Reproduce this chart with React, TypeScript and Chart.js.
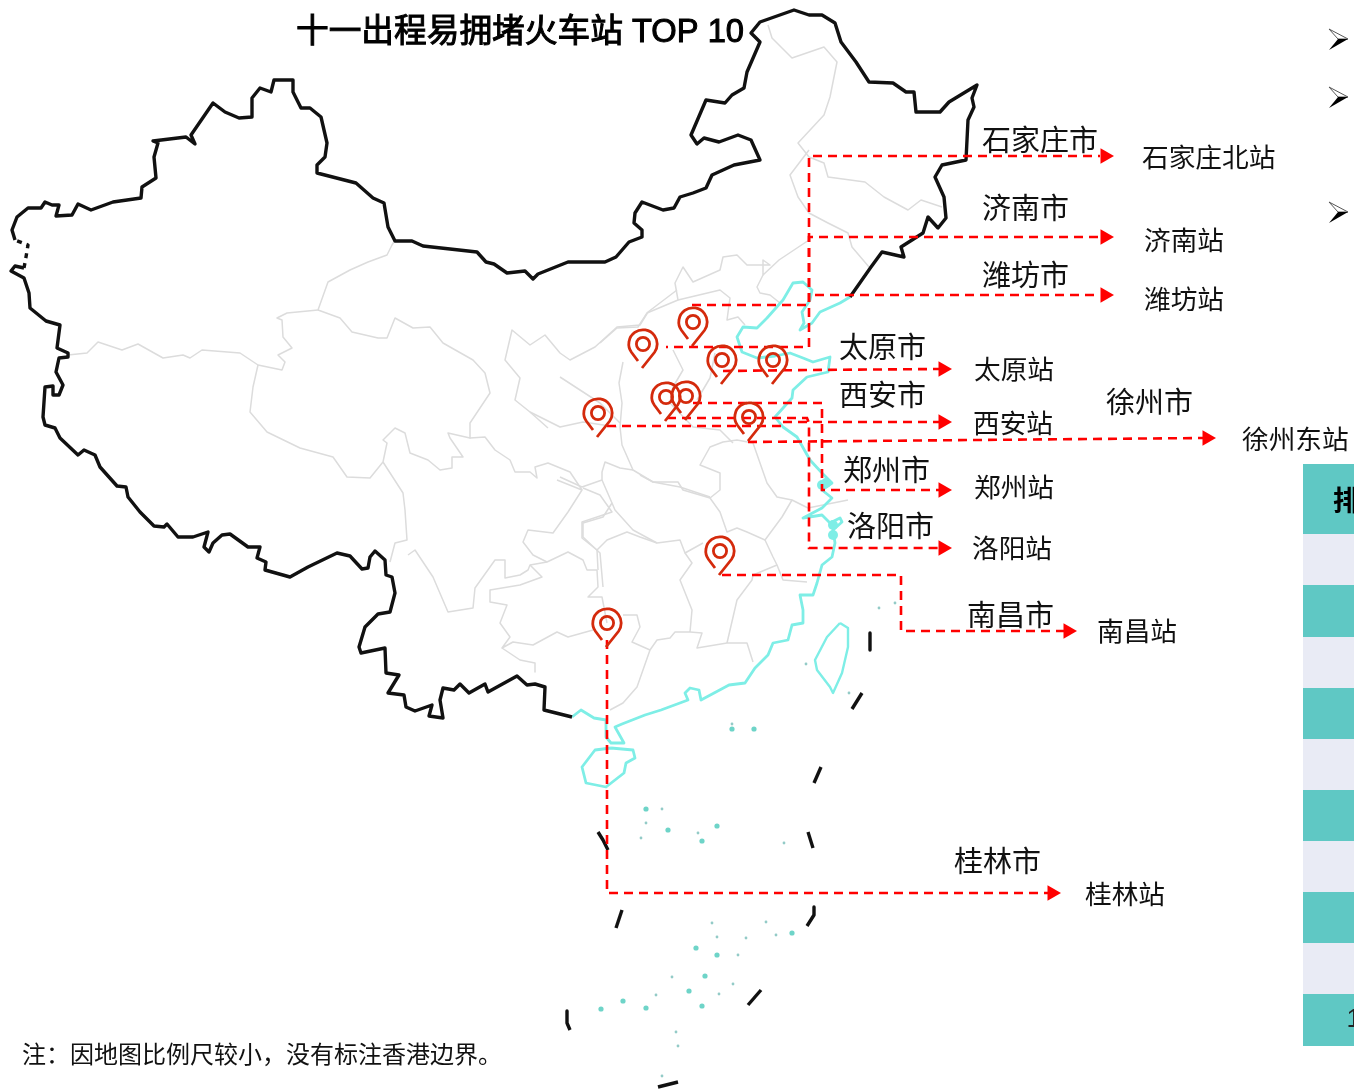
import React, { useEffect, useRef } from "react";
import { Chart, registerables } from "chart.js";

Chart.register(...registerables);

type P = number[];

const titleText = "十一出程易拥堵火车站 TOP 10";
const noteText = "注：因地图比例尺较小，没有标注香港边界。";
const cityNames = ["石家庄市", "济南市", "潍坊市", "太原市", "西安市", "徐州市", "郑州市", "洛阳市", "南昌市", "桂林市"];
const cityAnchors: P[] = [[982, 140], [982, 208], [982, 275], [839, 347], [839, 395], [1106, 402], [843, 470], [847, 526], [967, 615], [954, 861]];
const stationNames = ["石家庄北站", "济南站", "潍坊站", "太原站", "西安站", "徐州东站", "郑州站", "洛阳站", "南昌站", "桂林站"];
const stationAnchors: P[] = [[1142, 157], [1144, 240], [1144, 299], [974, 369], [973, 423], [1242, 439], [974, 487], [972, 548], [1097, 631], [1085, 894]];
const bulletSpots: P[] = [[1338, 39], [1338, 97], [1338, 212]];
const tableHeader = "排名";
const tableRanks = ["1", "2", "3", "4", "5", "6", "7", "8", "9", "10"];
const tableEdges = [464, 534, 585, 637, 688, 739, 790, 841, 892, 943, 994, 1046];

const pins: P[] = [[693, 322], [643, 344], [722, 360], [773, 360], [666, 397], [686, 396], [598, 413], [749, 417], [720, 551], [607, 623]];
const arrowHeads: P[] = [[1105, 156], [1105, 237], [1105, 295], [943, 369], [943, 422], [943, 490], [943, 548], [1207, 438], [1068, 631], [1052, 893]];

const routeShijiazhuang: P[] = [[692, 305], [809, 305], [809, 156], [1100, 156]];
const routeJinan: P[] = [[666, 347], [809, 347], [809, 237], [1100, 237]];
const routeWeifang: P[] = [[815, 295], [1100, 295]];
const routeTaiyuan: P[] = [[723, 371], [809, 370], [940, 369]];
const routeXian: P[] = [[607, 426], [782, 426], [782, 422], [940, 422]];
const routeXuzhou: P[] = [[748, 442], [1203, 438]];
const routeZhengzhou: P[] = [[693, 403], [822, 403], [822, 490], [940, 490]];
const routeLuoyang: P[] = [[667, 418], [807, 418], [809, 423], [809, 548], [940, 548]];
const routeNanchang: P[] = [[722, 575], [901, 575], [901, 631], [1064, 631]];
const routeGuilin: P[] = [[607, 640], [607, 893], [1048, 893]];

const borderMain: P[] = [
  [572, 717], [544, 710], [545, 687], [535, 684], [527, 685], [517, 676], [488, 692], [485, 684], [469, 693], [460, 684], [454, 690], [443, 688], [440, 700], [443, 718], [429, 716], [432, 705], [415, 711], [406, 707], [404, 695], [388, 693], [399, 675], [386, 673], [385, 648], [361, 653], [359, 647], [365, 627], [378, 614], [390, 612], [395, 593], [392, 577], [386, 575], [385, 560], [375, 551], [370, 557], [368, 568], [362, 569], [350, 556], [337, 553], [308, 567], [290, 577], [265, 570], [266, 562], [257, 558], [260, 547], [248, 547], [230, 534], [222, 535], [213, 543], [209, 552], [204, 547], [208, 532], [193, 537], [178, 537], [167, 524], [164, 527], [154, 526], [140, 512], [128, 497], [126, 487], [117, 486], [100, 467], [95, 455], [84, 450], [78, 455], [60, 438], [55, 428], [45, 425], [43, 417], [45, 387], [53, 386], [53, 395], [59, 395], [63, 385], [56, 372], [59, 358], [68, 357], [68, 353], [57, 348], [60, 325], [46, 321], [30, 308], [29, 293], [24, 278], [11, 271], [15, 266], [24, 268]
];
const borderWestGap: P[] = [[24, 268], [26, 257], [28, 245], [15, 240]];
const borderNorth: P[] = [
  [15, 240], [12, 230], [17, 217], [28, 208], [41, 208], [45, 202], [52, 205], [59, 205], [56, 216], [72, 215], [78, 204], [91, 210], [113, 202], [141, 198], [142, 187], [156, 178], [154, 157], [158, 143], [153, 141], [186, 137], [195, 144], [191, 135], [213, 103], [225, 112], [239, 118], [252, 117], [252, 98], [260, 88], [271, 92], [274, 80], [293, 80], [293, 92], [301, 108], [310, 108], [321, 117], [327, 143], [325, 157], [317, 165], [317, 173], [356, 183], [373, 198], [384, 203], [388, 227], [395, 241], [412, 241], [423, 246], [477, 252], [486, 262], [494, 264], [507, 273], [525, 271], [533, 279], [538, 274], [568, 262], [605, 262], [616, 257], [629, 242], [642, 237], [642, 230], [634, 223], [635, 213], [642, 202], [663, 210], [674, 208], [680, 197], [693, 193], [706, 188], [712, 175], [734, 165], [760, 160], [751, 140], [738, 135], [719, 142], [704, 138], [697, 144], [691, 135], [706, 100], [725, 103], [732, 95], [744, 88], [747, 72], [760, 42], [751, 33], [760, 22], [794, 10], [809, 15], [822, 15], [835, 23], [841, 42], [856, 62], [869, 82], [893, 83], [906, 92], [914, 92], [916, 112], [940, 112], [949, 102], [977, 85], [972, 98], [974, 107], [968, 120], [966, 160], [942, 165], [935, 177], [944, 197], [946, 218], [938, 228], [928, 217], [923, 233], [901, 247], [904, 257], [882, 252], [871, 267], [850, 297]
];
const dashA: P[] = [[870, 633], [870, 650]];
const dashB: P[] = [[862, 693], [852, 709]];
const dashC: P[] = [[821, 767], [814, 783]];
const dashD: P[] = [[808, 832], [813, 848]];
const dashE: P[] = [[814, 907], [814, 915], [807, 926]];
const dashF: P[] = [[761, 990], [748, 1005]];
const dashG: P[] = [[678, 1082], [658, 1087]];
const dashH: P[] = [[567, 1011], [567, 1023], [570, 1030]];
const dashI: P[] = [[622, 910], [616, 928]];
const dashJ: P[] = [[598, 832], [603, 840], [608, 850]];

const coast: P[] = [
  [850, 297], [840, 303], [820, 312], [812, 323], [800, 330], [804, 323], [802, 312], [810, 300], [812, 290], [803, 282], [793, 283], [783, 300], [767, 318], [757, 328], [743, 327], [737, 337], [742, 352], [757, 358], [775, 356], [790, 353], [803, 358], [813, 362], [830, 357], [828, 372], [807, 377], [793, 390], [792, 398], [775, 417], [783, 427], [797, 437], [810, 460], [822, 473], [832, 483], [822, 490], [832, 498], [822, 508], [803, 518], [822, 515], [830, 523], [840, 518], [842, 522], [833, 530], [835, 543], [832, 557], [822, 565], [817, 583], [813, 595], [800, 595], [803, 610], [803, 623], [792, 625], [788, 640], [773, 643], [768, 655], [755, 668], [745, 683], [729, 685], [701, 700], [699, 690], [690, 688], [685, 693], [688, 700], [661, 710], [645, 715], [622, 724], [615, 727], [624, 743], [611, 743], [606, 737], [606, 720], [594, 718], [581, 710], [572, 717]
];
const hainan: P[] = [[611, 748], [633, 750], [635, 758], [626, 763], [624, 773], [606, 787], [586, 783], [582, 767], [595, 750], [611, 748]];
const taiwan: P[] = [[840, 623], [848, 628], [848, 647], [842, 673], [833, 693], [830, 687], [817, 670], [815, 660], [827, 637], [840, 623]];
const coastBlobs: P[] = [[822, 485], [826, 483], [833, 525], [833, 535]];

const largeIslands: P[] = [[646, 809], [668, 830], [717, 826], [702, 841], [792, 933], [696, 948], [717, 955], [705, 976], [689, 991], [623, 1001], [601, 1009], [646, 1008], [702, 1006], [732, 729], [754, 729]];
const smallIslands: P[] = [[646, 823], [698, 833], [784, 843], [641, 838], [662, 809], [712, 923], [717, 937], [746, 938], [766, 922], [776, 935], [738, 955], [672, 977], [656, 995], [719, 994], [733, 984], [676, 1032], [678, 1046], [662, 1076], [732, 724], [849, 693], [806, 664], [879, 608], [895, 603]];

const grayA: P[] = [[68, 355], [87, 353], [98, 342], [122, 350], [138, 344], [163, 358], [183, 355], [190, 358], [202, 350], [240, 353], [258, 365], [282, 370], [285, 362], [278, 355], [292, 348], [283, 337], [282, 320], [277, 318], [287, 313], [318, 310]];
const grayB: P[] = [[318, 310], [328, 282], [350, 270], [368, 262], [387, 255], [392, 245], [395, 240]];
const grayC: P[] = [[318, 310], [340, 318], [352, 332], [378, 338], [387, 338], [395, 318], [413, 328], [430, 327], [443, 343], [473, 360], [485, 373], [490, 393], [470, 423], [470, 438]];
const grayD: P[] = [[258, 365], [253, 387], [250, 412], [267, 432], [300, 448], [333, 457], [347, 477], [370, 478], [383, 462], [387, 443], [383, 440], [395, 428], [405, 433], [410, 453], [428, 460], [440, 470], [452, 468], [452, 457], [463, 457], [450, 438], [448, 433], [470, 438], [485, 437], [495, 450], [510, 460], [515, 472], [530, 472], [537, 478], [535, 467], [548, 463], [570, 472], [582, 490]];
const grayE: P[] = [[383, 462], [403, 493], [405, 510], [407, 540], [395, 543], [390, 562]];
const grayF: P[] = [[408, 555], [415, 550], [433, 577], [448, 612], [473, 608], [475, 588], [495, 560], [505, 560], [505, 578], [520, 575], [528, 570], [530, 565], [547, 562], [568, 552], [583, 560], [587, 570], [597, 570], [598, 587], [588, 597], [602, 597], [607, 623]];
const grayG: P[] = [[490, 590], [520, 585], [542, 577], [530, 565]];
const grayH: P[] = [[490, 590], [490, 602], [507, 605], [500, 623], [510, 637], [502, 648], [513, 642], [533, 645], [557, 632], [568, 637], [593, 630]];
const grayI: P[] = [[502, 648], [520, 660], [535, 663], [535, 672]];
const grayJ: P[] = [[623, 615], [637, 615], [640, 627], [632, 642], [650, 650], [637, 687], [623, 703], [610, 710]];
const grayK: P[] = [[650, 650], [657, 640], [670, 638], [675, 632], [690, 632], [702, 633], [697, 648], [727, 643], [747, 643], [753, 662]];
const grayL: P[] = [[547, 562], [533, 555], [523, 542], [528, 530], [553, 533], [568, 512], [582, 490], [557, 480]];
const grayM: P[] = [[582, 522], [612, 512], [600, 495], [583, 488]];
const grayN: P[] = [[582, 522], [582, 538], [597, 550], [598, 570]];
const grayO: P[] = [[597, 550], [607, 540], [627, 532], [640, 537], [657, 543], [680, 540], [685, 553], [703, 543]];
const grayP: P[] = [[640, 475], [653, 482], [678, 482], [683, 490], [710, 498], [720, 512], [727, 532], [737, 528], [747, 532], [765, 540], [782, 517], [792, 500], [808, 508], [848, 500]];
const grayQ: P[] = [[710, 498], [720, 490], [720, 473], [700, 465], [710, 447], [723, 442], [737, 440], [753, 443], [767, 483], [777, 497], [792, 500]];
const grayR: P[] = [[685, 553], [692, 563], [680, 580], [692, 610], [690, 632]];
const grayS: P[] = [[727, 643], [737, 600], [752, 580], [753, 575], [777, 565], [773, 557], [765, 540]];
const grayT: P[] = [[777, 565], [783, 580], [807, 582]];
const grayU: P[] = [[677, 290], [648, 312], [640, 325], [617, 327], [595, 347], [570, 360], [560, 353], [545, 335], [530, 345], [512, 330], [505, 360], [520, 378], [515, 400], [530, 412], [548, 428]];
const grayV: P[] = [[623, 362], [619, 383], [622, 403], [620, 427], [622, 445], [633, 470], [653, 482], [680, 487], [710, 497]];
const grayW: P[] = [[673, 350], [683, 370], [673, 387], [670, 403], [693, 427], [720, 430], [733, 443]];
const grayX: P[] = [[560, 377], [600, 403], [620, 423]];
const grayY: P[] = [[530, 412], [560, 427], [583, 422], [617, 427]];
const grayZ: P[] = [[560, 477], [582, 487], [602, 480], [602, 472], [605, 462], [620, 468], [633, 470]];
const grayAA: P[] = [[602, 480], [612, 503], [603, 517], [583, 523], [583, 537], [600, 553], [603, 587]];
const grayAB: P[] = [[612, 503], [615, 510], [633, 530], [657, 543]];
const grayAC: P[] = [[768, 25], [772, 38], [792, 58], [824, 47], [837, 62], [830, 97], [824, 115], [798, 143], [809, 157], [824, 163], [828, 177], [865, 182], [884, 197], [908, 210], [921, 200], [942, 207]];
const grayAD: P[] = [[809, 150], [790, 175], [798, 197], [809, 213], [828, 223], [848, 233], [852, 247], [869, 267]];
const grayAE: P[] = [[809, 240], [779, 260], [763, 275], [763, 260], [770, 265], [747, 265], [737, 255], [723, 257], [720, 270], [693, 282], [683, 267], [675, 283], [678, 300], [647, 313], [638, 327], [617, 328], [600, 343]];
const grayAF: P[] = [[763, 275], [757, 287], [760, 293], [770, 295], [780, 303]];
const grayAG: P[] = [[678, 300], [720, 290], [730, 298], [727, 320], [738, 317], [745, 325]];
const grayAH: P[] = [[715, 353], [710, 378], [697, 400]];
const grayBorders = [grayA, grayB, grayC, grayD, grayE, grayF, grayG, grayH, grayI, grayJ, grayK, grayL, grayM, grayN, grayO, grayP, grayQ, grayR, grayS, grayT, grayU, grayV, grayW, grayX, grayY, grayZ, grayAA, grayAB, grayAC, grayAD, grayAE, grayAF, grayAG, grayAH];

const blackSegments = [borderMain, borderNorth, dashA, dashB, dashC, dashD, dashE, dashF, dashG, dashH, dashI, dashJ];
const routes = [routeShijiazhuang, routeJinan, routeWeifang, routeTaiyuan, routeXian, routeXuzhou, routeZhengzhou, routeLuoyang, routeNanchang, routeGuilin];
const routeDashPhases = [0, 7, 0, 0, 0, 0, 0, 0, 0, 0];

const pts = (a: P[]) => a.map(([x, y]) => ({ x, y }));
const line = (a: P[], color: string, width: number, extra: object = {}) => ({
  type: "scatter" as const,
  data: pts(a),
  showLine: true,
  pointRadius: 0,
  borderColor: color,
  backgroundColor: color,
  borderWidth: width,
  borderJoinStyle: "round" as const,
  borderCapStyle: "butt" as const,
  clip: false,
  ...extra,
});
const dots = (a: P[], color: string, radius: number) => ({
  type: "scatter" as const,
  data: pts(a),
  pointRadius: radius,
  pointBackgroundColor: color,
  pointBorderWidth: 0,
  showLine: false,
  clip: false,
});

function makePinSprite() {
  const c = document.createElement("canvas");
  c.width = 38;
  c.height = 60;
  const g = c.getContext("2d")!;
  g.translate(19, 30);
  g.strokeStyle = "#d42a0c";
  g.lineWidth = 2.8;
  g.lineCap = "butt";
  const r = 14.2;
  const a = 0.62;
  g.beginPath();
  g.moveTo(-5, 17);
  g.lineTo(-r * Math.cos(a), r * Math.sin(a));
  g.arc(0, 0, r, Math.PI - a, a, false);
  g.lineTo(-1, 24);
  g.stroke();
  g.beginPath();
  g.arc(0, 0, 6.6, 0, Math.PI * 2);
  g.stroke();
  return c;
}

function makeBulletSprite() {
  const c = document.createElement("canvas");
  c.width = 24;
  c.height = 26;
  const g = c.getContext("2d")!;
  g.translate(12, 13);
  g.fillStyle = "#ffffff";
  g.strokeStyle = "#555555";
  g.lineWidth = 1;
  g.beginPath();
  g.moveTo(-9, -10);
  g.lineTo(10, 0);
  g.lineTo(0, 0);
  g.closePath();
  g.fill();
  g.stroke();
  g.fillStyle = "#000000";
  g.beginPath();
  g.moveTo(-9, 11);
  g.lineTo(10, 0);
  g.lineTo(0, 0);
  g.closePath();
  g.fill();
  return c;
}

const CJK = '"Noto Sans CJK SC", "Liberation Sans", sans-serif';

const textPlugin = {
  id: "mapText",
  afterDatasetsDraw(chart: any) {
    const { ctx, scales } = chart;
    const X = (v: number) => scales.x.getPixelForValue(v);
    const Y = (v: number) => scales.y.getPixelForValue(v);
    const write = (s: string, x: number, y: number, font: string, color = "#111", align: CanvasTextAlign = "left") => {
      ctx.font = font;
      ctx.fillStyle = color;
      ctx.textAlign = align;
      ctx.textBaseline = "middle";
      ctx.fillText(s, X(x), Y(y));
    };
    ctx.save();
    ctx.lineWidth = 1;
    ctx.strokeStyle = "#000";
    ctx.font = `32.7px "Liberation Sans", "Noto Sans CJK SC", sans-serif`;
    ctx.textAlign = "center";
    ctx.textBaseline = "middle";
    ctx.fillStyle = "#000";
    ctx.fillText(titleText, X(520), Y(33));
    ctx.strokeText(titleText, X(520), Y(33));
    cityNames.forEach((n, i) => write(n, cityAnchors[i][0], cityAnchors[i][1], `29px ${CJK}`));
    stationNames.forEach((n, i) => write(n, stationAnchors[i][0], stationAnchors[i][1], `26.7px ${CJK}`));
    write(noteText, 22, 1054, `24px ${CJK}`);
    write(tableHeader, 1333, 500, `bold 28px ${CJK}`, "#000");
    tableRanks.forEach((r, i) => {
      const mid = (tableEdges[i + 1] + tableEdges[i + 2]) / 2;
      write(r, 1361, mid, `26px "Liberation Sans"`, "#222", "center");
    });
    ctx.restore();
  },
};

export default function App() {
  const ref = useRef<HTMLCanvasElement>(null);
  useEffect(() => {
    document.body.style.margin = "0";
    const tableRows = tableEdges.slice(0, -1).map((top, i) => {
      const bottom = tableEdges[i + 1];
      const mid = (top + bottom) / 2;
      return line([[1303, mid], [1354, mid]], i % 2 === 0 ? "#5FC8C4" : "#E9EBF5", bottom - top);
    });
    const datasets: any[] = [
      {
        type: "scatter",
        data: pts(pins),
        pointStyle: makePinSprite(),
        showLine: false,
        clip: false,
      },
      {
        type: "scatter",
        data: pts(bulletSpots),
        pointStyle: makeBulletSprite(),
        showLine: false,
        clip: false,
      },
      {
        type: "scatter",
        data: pts(arrowHeads),
        pointStyle: "triangle",
        rotation: 90,
        pointRadius: 9,
        pointBackgroundColor: "#ff0000",
        pointBorderWidth: 0,
        showLine: false,
        clip: false,
      },
      ...routes.map((r, i) => line(r, "#ff0000", 2.6, { borderDash: [9, 6], borderDashOffset: routeDashPhases[i], borderJoinStyle: "miter" })),
      dots(largeIslands, "rgba(85,205,190,0.85)", 2.6),
      dots(smallIslands, "rgba(120,190,185,0.8)", 1.4),
      ...blackSegments.map((s) => line(s, "#111111", 3.4)),
      line(borderWestGap, "#111111", 3.4, { borderDash: [5, 5] }),
      dots(coastBlobs, "#7eeee6", 5),
      line(coast, "#7eeee6", 2.8),
      line(hainan, "#7eeee6", 2.8),
      line(taiwan, "#7eeee6", 2.4),
      ...grayBorders.map((g) => line(g, "#dcdcdc", 1.5)),
      ...tableRows,
    ];
    const chart = new Chart(ref.current!, {
      type: "scatter",
      data: { datasets },
      options: {
        animation: false,
        responsive: false,
        maintainAspectRatio: false,
        devicePixelRatio: 1,
        layout: { padding: 0, autoPadding: false },
        events: [],
        plugins: { legend: { display: false }, tooltip: { enabled: false }, title: { display: false } },
        scales: {
          x: { type: "linear", min: 0, max: 1354, display: false },
          y: { type: "linear", min: 0, max: 1091, reverse: true, display: false },
        },
      },
      plugins: [textPlugin],
    } as any);
    return () => chart.destroy();
  }, []);
  return <canvas ref={ref} width={1354} height={1091} style={{ display: "block", width: 1354, height: 1091 }} />;
}
